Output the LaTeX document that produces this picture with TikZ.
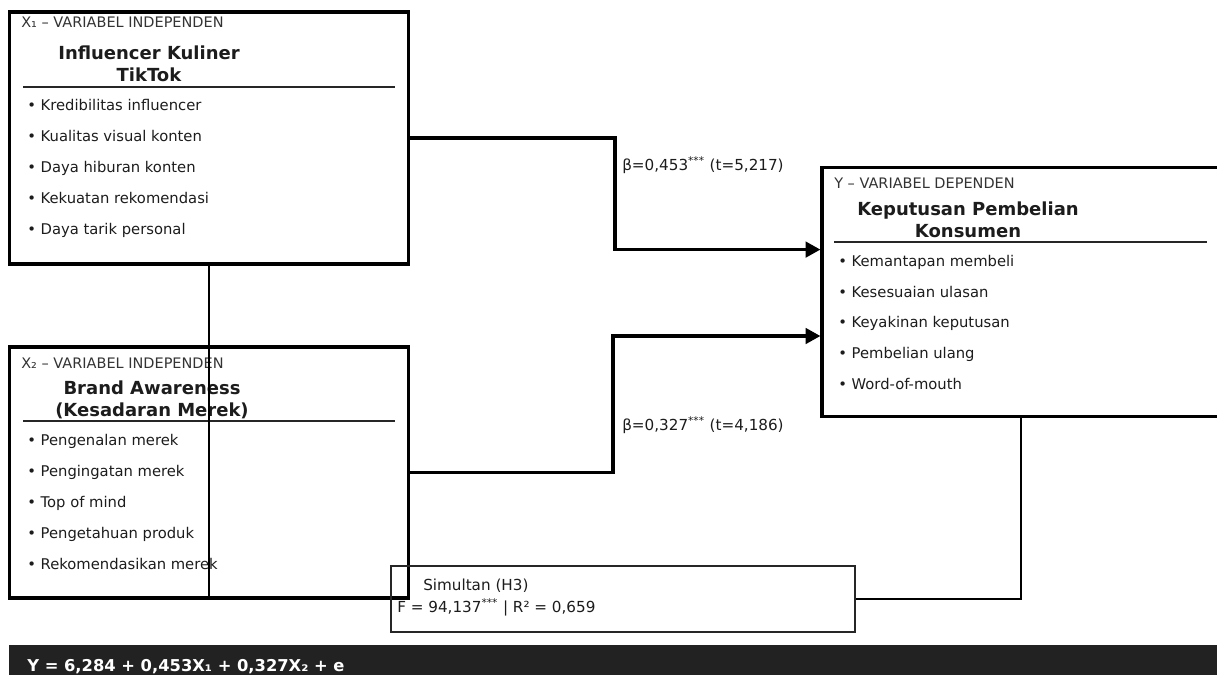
\documentclass[tikz,border=0pt]{standalone}
\usepackage{fontspec}
\setmainfont{DejaVu Sans}
\usetikzlibrary{arrows.meta,positioning}
\definecolor{ink}{HTML}{1C1C1C}
\definecolor{balok}{HTML}{222222}
\tikzset{
    %Define style for the variable boxes
    varbox/.style={
           rectangle,
           draw=black, line width=2.2pt,
           minimum width=9.95cm,
           inner sep=0pt},
    simbox/.style={rectangle,draw=black!85,line width=1.1pt,minimum width=11.6cm,minimum height=1.65cm,inner sep=0pt},
    % Define text styles
    kop/.style={anchor=west,inner sep=0pt,yshift=-1.4pt,text height=7.6pt,text depth=2.2pt,font=\fontsize{10.3}{11}\selectfont,text=black!80},
    judul/.style={align=center,inner sep=0pt,font=\fontsize{12.8}{15.8}\selectfont\bfseries,text=ink},
    butir/.style={anchor=west,inner sep=0pt,yshift=-1.4pt,text height=7.8pt,text depth=2.4pt,font=\fontsize{10.5}{12}\selectfont,text=ink},
    koef/.style={anchor=west,inner sep=0pt,yshift=-1.2pt,text height=8pt,text depth=2.6pt,font=\fontsize{10.8}{12}\selectfont,text=ink},
    % Define arrow style
    pil/.style={
	   -{Triangle[length=10.5pt,width=11pt]},
	   line width=2.2pt},
    garis/.style={line width=1.1pt},
    aturan/.style={line width=0.8pt,draw=black!85}
}

\begin{document}
\begin{tikzpicture}[x=0.025cm,y=-0.025cm]
  \useasboundingbox (0,0) rectangle (1217,675);
  % boxes
  \node[varbox,minimum height=6.3cm] (x1) at (209,138) {};
  \node[varbox,minimum height=6.275cm] (x2) at (209,472.5) {};
  \node[varbox,minimum height=6.225cm] (y) at (1021,292) {};
  \node[simbox] (sim) at (623,599) {};

  % X1
  \node[kop] (x1kop) at (21,22) {X₁ – VARIABEL INDEPENDEN};
  \node[judul] (x1judul) at (149,64) {Influencer Kuliner\\TikTok};
  \draw[aturan] (23,87) -- (395,87);
  \node[butir] (x1a) at (27,105) {• Kredibilitas influencer};
  \node[butir] (x1b) at (27,136) {• Kualitas visual konten};
  \node[butir] (x1c) at (27,167) {• Daya hiburan konten};
  \node[butir] (x1d) at (27,198) {• Kekuatan rekomendasi};
  \node[butir] (x1e) at (27,229) {• Daya tarik personal};

  % X2
  \node[kop] (x2kop) at (21,363) {X₂ – VARIABEL INDEPENDEN};
  \node[judul] (x2judul) at (152,400) {Brand Awareness\\(Kesadaran Merek)};
  \draw[aturan] (23,421) -- (395,421);
  \node[butir] (x2a) at (27,440) {• Pengenalan merek};
  \node[butir] (x2b) at (27,471) {• Pengingatan merek};
  \node[butir] (x2c) at (27,502) {• Top of mind};
  \node[butir] (x2d) at (27,533) {• Pengetahuan produk};
  \node[butir] (x2e) at (27,564) {• Rekomendasikan merek};

  % Y
  \node[kop] (ykop) at (834,183) {Y – VARIABEL DEPENDEN};
  \node[judul] (yjudul) at (968,220) {Keputusan Pembelian\\Konsumen};
  \draw[aturan] (834,242) -- (1207,242);
  \node[butir] (ya) at (838,261) {• Kemantapan membeli};
  \node[butir] (yb) at (838,292) {• Kesesuaian ulasan};
  \node[butir] (yc) at (838,322) {• Keyakinan keputusan};
  \node[butir] (yd) at (838,353) {• Pembelian ulang};
  \node[butir] (ye) at (838,384) {• Word-of-mouth};

  % paths
  \draw[pil] (x1.east) -| (615,194) |- ([yshift=1.06cm]y.west);
  \draw[pil] (x2.east) -| (613,400) |- ([yshift=-1.1cm]y.west);
  \node[koef] (b1) at (622,165) {β=0,453\textsuperscript{***} (t=5,217)};
  \node[koef] (b2) at (622,425) {β=0,327\textsuperscript{***} (t=4,186)};
  \draw[garis] (x1.south) -- (x1.south |- x2.south);
  \draw[garis] (y.south) |- (sim.east);

  % simultan
  \node[koef] (simA) at (423,585) {Simultan (H3)};
  \node[koef] (simB) at (397,607) {F = 94,137\textsuperscript{***} | R² = 0,659};

  % equation bar
  \fill[balok] (9,645) rectangle (1217,675);
  \node[anchor=west,inner sep=0pt,text=white,font=\fontsize{11.6}{13}\selectfont\bfseries] (persamaan) at (27,667) {Y = 6,284 + 0,453X₁ + 0,327X₂ + e};
\end{tikzpicture}
\end{document}
